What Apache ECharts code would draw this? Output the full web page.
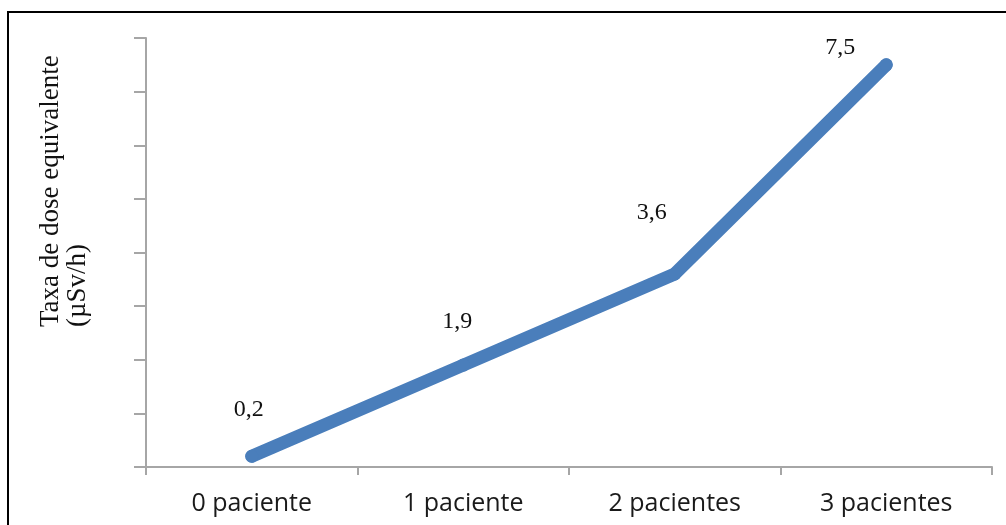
<!DOCTYPE html>
<html>
<head>
<meta charset="utf-8">
<style>
	html, body { margin: 0; padding: 0; background: #fff; }
	#chart { width: 1006px; height: 525px; }
</style>
<script src="https://cdn.jsdelivr.net/npm/echarts@6/dist/echarts.min.js"></script>
</head>
<body>
<div id="chart"></div>
<script>
// dados
var categorias = ['0 paciente', '1 paciente', '2 pacientes', '3 pacientes'];
var taxaDose = [0.2, 1.9, 3.6, 7.5];
var eixoY = { min: 0, max: 8, passo: 1 };

// deslocamento dos rotulos em relacao aos pontos (px)
var desloc = [[-3, -47], [-6, -43], [-23, -61], [-46, -17]];

var chart = echarts.init(document.getElementById('chart'));

var option = {
	animation: false,
	grid: { left: 146, top: 38, right: 14, bottom: 58 },
	graphic: [
		{
			type: 'rect',
			shape: { x: 8, y: 12, width: 1020, height: 540 },
			style: { fill: 'none', stroke: '#000', lineWidth: 2 },
			silent: true
		},
		{
			type: 'text',
			x: 37,
			y: 327,
			rotation: Math.PI / 2,
			style: {
				text: 'Taxa de dose equivalente\n(µSv/h)',
				font: '27px "Liberation Serif"',
				lineHeight: 27,
				fill: '#111',
				textAlign: 'left',
				textVerticalAlign: 'top'
			},
			silent: true
		}
	],
	xAxis: {
		type: 'category',
		data: categorias,
		boundaryGap: true,
		axisLine: { lineStyle: { color: '#a6a6a6', width: 2 } },
		axisTick: { show: true, length: 8, lineStyle: { color: '#a6a6a6', width: 2 } },
		axisLabel: {
			margin: 24,
			fontFamily: 'Open Sans',
			fontSize: 25,
			color: '#1a1a1a'
		},
		splitLine: { show: false }
	},
	yAxis: {
		type: 'value',
		min: eixoY.min,
		max: eixoY.max,
		interval: eixoY.passo,
		axisLine: { show: true, lineStyle: { color: '#a6a6a6', width: 2 } },
		axisTick: { show: true, length: 12, lineStyle: { color: '#a6a6a6', width: 2 } },
		axisLabel: { show: false },
		splitLine: { show: false }
	},
	series: [
		{
			type: 'line',
			data: taxaDose.map(function (v, i) {
				return { value: v, label: { offset: desloc[i] } };
			}),
			symbol: 'circle',
			symbolSize: 13,
			itemStyle: { color: '#4a7ebb' },
			lineStyle: { color: '#4a7ebb', width: 13, cap: 'round', join: 'round' },
			label: {
				show: true,
				position: 'inside',
				fontFamily: 'Liberation Serif',
				fontSize: 24,
				color: '#111',
				formatter: function (p) {
					return String(p.value).replace('.', ',');
				}
			}
		}
	]
};

chart.setOption(option);
</script>
</body>
</html>
